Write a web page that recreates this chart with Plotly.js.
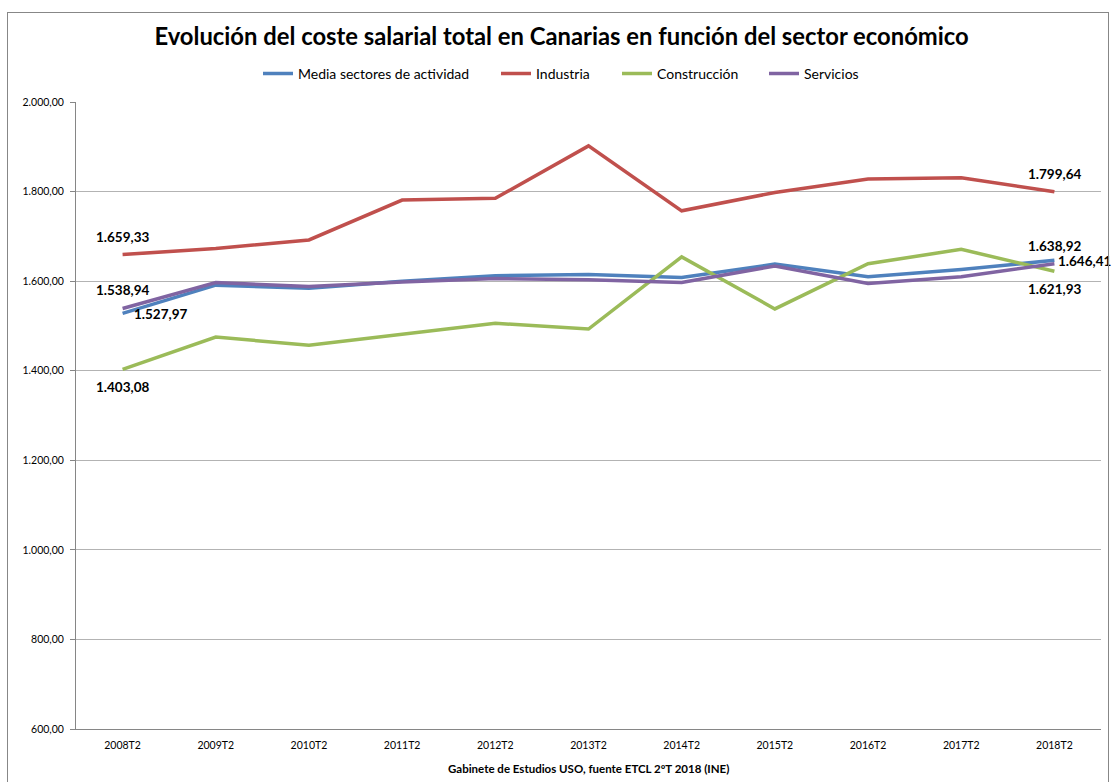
<!DOCTYPE html>
<html>
<head>
<meta charset="utf-8">
<script src="https://cdn.plot.ly/plotly-3.0.1.min.js"></script>
<style>
  html, body { margin: 0; padding: 0; background: #fff; }
  #wrap { position: relative; width: 1112px; height: 782px; overflow: hidden; }
  #frame { position: absolute; left: 7px; top: 12px; width: 1100px; height: 800px; border: 1px solid #878787; pointer-events: none; }
  #chart { position: absolute; left: 0; top: 0; width: 1112px; height: 782px; }
</style>
</head>
<body>
<div id="wrap">
  <div id="chart"></div>
  <div id="frame"></div>
</div>
<script>
// Data
var categories = ["2008T2","2009T2","2010T2","2011T2","2012T2","2013T2","2014T2","2015T2","2016T2","2017T2","2018T2"];
var media       = [1527.97, 1591, 1584, 1600, 1612, 1615, 1608, 1638, 1610, 1626, 1646.41];
var industria   = [1659.33, 1673, 1692, 1781, 1785, 1902, 1757, 1798, 1828, 1831, 1799.64];
var construccion= [1403.08, 1475, 1457, 1482, 1506, 1493, 1654, 1538, 1639, 1671, 1621.93];
var servicios   = [1538.94, 1597, 1588, 1598, 1606, 1603, 1597, 1634, 1595, 1610, 1638.92];
var seriesNames = ["Media sectores de actividad", "Industria", "Construcción", "Servicios"];
var yTicks = [600, 800, 1000, 1200, 1400, 1600, 1800, 2000];

var colors = ["#4F81BD", "#C0504D", "#9BBB59", "#8064A2"];
var allSeries = [media, industria, construccion, servicios];
var legendIds = ["legend", "legend2", "legend3", "legend4"];
var FONT = "Lato, 'Open Sans', sans-serif";

function fmt(v) {
  var parts = v.toFixed(2).split(".");
  var intPart = parts[0].replace(/\B(?=(\d{3})+(?!\d))/g, ".");
  return intPart + "," + parts[1];
}

var traces = allSeries.map(function (s, i) {
  return {
    type: "scatter",
    mode: "lines",
    x: categories,
    y: s,
    name: seriesNames[i],
    legend: legendIds[i],
    line: { color: colors[i], width: 3.5 },
    hoverinfo: "x+y+name"
  };
});

var last = categories.length - 1;
var labelFont = { family: FONT, size: 13.5, color: "#000" };
function lab(xi, v, xs, ys) {
  return {
    xref: "x", yref: "y", x: categories[xi], y: v,
    xanchor: "center", yanchor: "middle",
    text: "<b>" + fmt(v) + "</b>", showarrow: false,
    xshift: xs, yshift: ys, font: labelFont
  };
}

var annotations = [
  lab(0, industria[0], 0, 18),
  lab(0, servicios[0], 0, 18),
  lab(0, media[0], 38, -1),
  lab(0, construccion[0], 0, -18),
  lab(last, industria[last], 1, 18),
  lab(last, servicios[last], 1, 18),
  lab(last, media[last], 30, -1),
  lab(last, construccion[last], 1, -18),
  {
    xref: "paper", yref: "paper", x: 0.5, y: 0, yanchor: "top", xanchor: "center",
    yshift: -31, showarrow: false,
    text: "<b>Gabinete de Estudios USO, fuente ETCL 2ºT 2018 (INE)</b>",
    font: { family: FONT, size: 11.5, color: "#000" }
  }
];

// legend box left positions (px) -> paper coords
var legendLeftPx = [258, 496, 617, 764];
function legendCfg(px) {
  return {
    orientation: "h",
    x: (px - 76) / 1025, xanchor: "left",
    y: 1.045, yanchor: "middle",
    font: { family: FONT, size: 14, color: "#000" },
    itemwidth: 30,
    bgcolor: "rgba(0,0,0,0)"
  };
}

var layout = {
  width: 1112,
  height: 782,
  margin: { l: 76, r: 11, t: 102, b: 53 },
  paper_bgcolor: "#fff",
  plot_bgcolor: "#fff",
  separators: ",.",
  font: { family: FONT, color: "#000" },
  title: {
    text: "<b>Evolución del coste salarial total en Canarias en función del sector económico</b>",
    x: 0.505, xanchor: "center", xref: "container",
    y: 0.953, yanchor: "middle", yref: "container",
    font: { family: FONT, size: 23.8, color: "#000" }
  },
  showlegend: true,
  legend: legendCfg(legendLeftPx[0]),
  legend2: legendCfg(legendLeftPx[1]),
  legend3: legendCfg(legendLeftPx[2]),
  legend4: legendCfg(legendLeftPx[3]),
  xaxis: {
    type: "category",
    categoryarray: categories,
    range: [-0.5, 10.5],
    showgrid: false,
    zeroline: false,
    showline: true,
    linecolor: "#868686",
    linewidth: 1,
    ticks: "",
    tickfont: { family: FONT, size: 10.5, color: "#000" },
    ticklabelstandoff: 6,
    fixedrange: true
  },
  yaxis: {
    range: [600, 2000],
    tickvals: yTicks,
    tickformat: ",.2f",
    showgrid: true,
    gridcolor: "#b3b3b3",
    gridwidth: 1,
    zeroline: false,
    showline: true,
    linecolor: "#868686",
    linewidth: 1,
    ticks: "outside",
    ticklen: 5,
    tickcolor: "#868686",
    tickfont: { family: FONT, size: 10.5, color: "#000" },
    ticklabelstandoff: 4,
    fixedrange: true
  },
  annotations: annotations
};

Plotly.newPlot("chart", traces, layout, { displayModeBar: false, responsive: false });
</script>
</body>
</html>
